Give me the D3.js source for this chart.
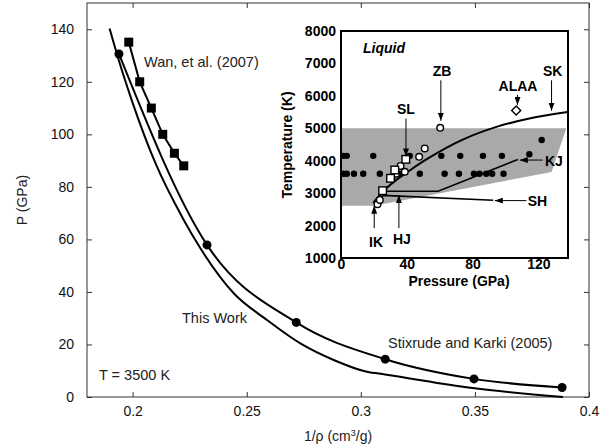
<!DOCTYPE html>
<html>
<head>
<meta charset="utf-8">
<script src="https://cdn.jsdelivr.net/npm/d3@7"></script>
<style>
  body { margin: 0; background: #fff; }
  svg { display: block; font-family: "Liberation Sans", Arial, Helvetica, sans-serif; }
</style>
</head>
<body>
<div id="chart"></div>
<script>
// main chart: P vs 1/rho at T = 3500 K
const thisWorkV = [0.1899, 0.194, 0.200, 0.210, 0.2224, 0.2297, 0.2443, 0.2589, 0.2735, 0.2881, 0.3027, 0.3106, 0.349, 0.3886];
const thisWorkP = [140.3, 128, 112, 89, 67.4, 56.6, 39.5, 29.3, 20.4, 14.1, 9.6, 8.6, 3.4, 0];
const skV = [0.194, 0.2326, 0.2717, 0.3107, 0.3496, 0.3882];
const skP = [130.6, 57.9, 28.4, 14.4, 6.9, 3.6];
const wanV = [0.1983, 0.2031, 0.2082, 0.2132, 0.2183, 0.2224];
const wanP = [135.1, 120, 110, 100, 92.8, 88];
const xTicks = [0.2, 0.25, 0.3, 0.35, 0.4];
const yTicks = [0, 20, 40, 60, 80, 100, 120, 140];

// inset: melting data, T vs P
const dotP = [1.4, 3.5, 19.6, 41.8, 61, 72.5, 86.3, 97.8, 114.5, 122, 1.4, 3.5, 7.9, 13.5, 23.6, 35.3, 47.9, 63, 71.7, 80.8, 84.2, 88.3, 91.9, 98.8];
const dotT = [4150, 4150, 4150, 4150, 4150, 4150, 4150, 4150, 4200, 4640, 3600, 3600, 3600, 3600, 3600, 3600, 3600, 3600, 3600, 3600, 3600, 3600, 3600, 3600];
const openCircP = [22.2, 23.6, 30.7, 33.5, 36.2, 38.8, 47.5, 50.9, 60.3];
const openCircT = [2660, 2790, 3460, 3600, 3840, 3660, 4120, 4380, 5015];
const openSqP = [25.3, 30.1, 32.7, 39.4];
const openSqT = [3076, 3458, 3714, 4043];
const alaaP = [106.5];
const alaaT = [5550];
const skMeltP = [19.6, 25.6, 41.8, 53.9, 74, 95, 114.5, 137.8];
const skMeltT = [2700, 3050, 3700, 4100, 4650, 5050, 5300, 5500];
const kjP = [20, 25.3, 59, 107.5];
const kjT = [2700, 3060, 3060, 4040];
const shP = [20, 25.6, 92.5];
const shT = [2700, 2930, 2780];
const bandP = [0, 137, 128, 20, 0];
const bandT = [5000, 5000, 3650, 2610, 2610];
const insetXTicks = [0, 40, 80, 120];
const insetYTicks = [1000, 2000, 3000, 4000, 5000, 6000, 7000, 8000];
// labels: text, label P, label T, arrow from [P,T] to [P,T]
const tags = [
  {t: "SL",   p: 39.5,  T: 5440, a: [[39.5, 5300], [39.5, 4130]], anchor: "middle"},
  {t: "ZB",   p: 61.5,  T: 6610, a: [[60.7, 6480], [60.7, 5230]], anchor: "middle"},
  {t: "ALAA", p: 107.6, T: 6150, a: [[107.3, 6030], [107.3, 5720]], anchor: "middle"},
  {t: "SK",   p: 128.7, T: 6610, a: [[128, 6480], [128, 5540]], anchor: "middle"},
  {t: "KJ",   p: 124,   T: 3840, a: [[122.6, 4020], [108.7, 4020]], anchor: "start"},
  {t: "SH",   p: 113.5, T: 2610, a: [[112.7, 2770], [93.5, 2770]], anchor: "start"},
  {t: "IK",   p: 21.3,  T: 1340, a: [[20.2, 1920], [20.2, 2610]], anchor: "middle"},
  {t: "HJ",   p: 37,    T: 1430, a: [[35.2, 1920], [35.2, 2940]], anchor: "middle"}
];

const W = 613, H = 448;
const svg = d3.select("#chart").append("svg").attr("width", W).attr("height", H);

const x = d3.scaleLinear().domain([0.18, 0.4]).range([87, 589]);
const y = d3.scaleLinear().domain([0, 150]).range([397, 3]);

// frame
svg.append("rect").attr("x", 87).attr("y", 3).attr("width", 502).attr("height", 394)
  .attr("fill", "none").attr("stroke", "#333").attr("stroke-width", 1);

const fmt = d => d;
const axB = svg.append("g").attr("transform", "translate(0,397)")
  .call(d3.axisBottom(x).tickValues(xTicks).tickFormat(fmt).tickSizeInner(-5).tickSizeOuter(0).tickPadding(9));
const axT = svg.append("g").attr("transform", "translate(0,3)")
  .call(d3.axisTop(x).tickValues(xTicks).tickFormat("").tickSizeInner(-5).tickSizeOuter(0));
const axL = svg.append("g").attr("transform", "translate(87,0)")
  .call(d3.axisLeft(y).tickValues(yTicks).tickFormat(fmt).tickSizeInner(-5).tickSizeOuter(0).tickPadding(13));
const axR = svg.append("g").attr("transform", "translate(589,0)")
  .call(d3.axisRight(y).tickValues(yTicks).tickFormat("").tickSizeInner(-5).tickSizeOuter(0));
[axB, axT, axL, axR].forEach(g => {
  g.select(".domain").remove();
  g.selectAll("line").attr("stroke", "#333");
  g.selectAll("text").attr("font-size", 14).attr("fill", "#111").style("font-family", "Liberation Sans, Arial, sans-serif");
});

// curves
const line = d3.line().x(d => x(d[0])).y(d => y(d[1]));
svg.append("path").datum(thisWorkV.map((v, i) => [v, thisWorkP[i]]))
  .attr("d", line.curve(d3.curveMonotoneX)).attr("fill", "none").attr("stroke", "#000").attr("stroke-width", 2);
svg.append("path").datum(skV.map((v, i) => [v, skP[i]]))
  .attr("d", line.curve(d3.curveMonotoneX)).attr("fill", "none").attr("stroke", "#000").attr("stroke-width", 2);
svg.append("path").datum(wanV.map((v, i) => [v, wanP[i]]))
  .attr("d", line.curve(d3.curveLinear)).attr("fill", "none").attr("stroke", "#000").attr("stroke-width", 2);

svg.selectAll(".skdot").data(skV).enter().append("circle")
  .attr("cx", d => x(d)).attr("cy", (d, i) => y(skP[i])).attr("r", 4.5).attr("fill", "#000");
svg.selectAll(".wansq").data(wanV).enter().append("rect")
  .attr("x", d => x(d) - 4.5).attr("y", (d, i) => y(wanP[i]) - 4.5)
  .attr("width", 9).attr("height", 9).attr("fill", "#000");

const note = (t, px, py, anchor) => svg.append("text").attr("x", px).attr("y", py)
  .attr("font-size", 14.5).attr("fill", "#222").attr("text-anchor", anchor || "start").text(t);
note("Wan, et al. (2007)", 144, 67);
note("This Work", 182, 323);
note("T = 3500 K", 99, 380);
note("Stixrude and Karki (2005)", 388, 348);

svg.append("text").attr("transform", "translate(27,200) rotate(-90)")
  .attr("text-anchor", "middle").attr("font-size", 14).attr("fill", "#222").text("P (GPa)");
const xl = svg.append("text").attr("x", 338).attr("y", 441).attr("text-anchor", "middle")
  .attr("font-size", 14).attr("fill", "#222");
xl.append("tspan").text("1/ρ (cm");
xl.append("tspan").attr("font-size", 9).attr("dy", -5).text("3");
xl.append("tspan").attr("dy", 5).text("/g)");

// ---- inset ----
const ix = d3.scaleLinear().domain([0, 138]).range([341, 568]);
const iy = d3.scaleLinear().domain([1000, 8000]).range([258, 31]);
const inset = svg.append("g");

inset.append("rect").attr("x", 341).attr("y", 31).attr("width", 227).attr("height", 227).attr("fill", "#fff");
inset.append("path")
  .attr("d", d3.line()(bandP.map((p, i) => [ix(p), iy(bandT[i])])) + "Z")
  .attr("fill", "#a9a9a9");

const iline = d3.line().x(d => ix(d[0])).y(d => iy(d[1]));
inset.append("path").datum(kjP.map((p, i) => [p, kjT[i]])).attr("d", iline)
  .attr("fill", "none").attr("stroke", "#000").attr("stroke-width", 1.6);
inset.append("path").datum(shP.map((p, i) => [p, shT[i]])).attr("d", iline)
  .attr("fill", "none").attr("stroke", "#000").attr("stroke-width", 1.6);
inset.append("path").datum(skMeltP.map((p, i) => [p, skMeltT[i]])).attr("d", iline.curve(d3.curveMonotoneX))
  .attr("fill", "none").attr("stroke", "#000").attr("stroke-width", 2);

inset.selectAll(".dot").data(dotP).enter().append("circle")
  .attr("cx", d => ix(d)).attr("cy", (d, i) => iy(dotT[i])).attr("r", 3.2).attr("fill", "#000");
inset.selectAll(".oc").data(openCircP).enter().append("circle")
  .attr("cx", d => ix(d)).attr("cy", (d, i) => iy(openCircT[i])).attr("r", 3.3)
  .attr("fill", "#fff").attr("stroke", "#000").attr("stroke-width", 1.4);
inset.selectAll(".os").data(openSqP).enter().append("rect")
  .attr("x", d => ix(d) - 3.8).attr("y", (d, i) => iy(openSqT[i]) - 3.8)
  .attr("width", 7.6).attr("height", 7.6)
  .attr("fill", "#fff").attr("stroke", "#000").attr("stroke-width", 1.4);
inset.selectAll(".dia").data(alaaP).enter().append("path")
  .attr("transform", (d, i) => `translate(${ix(d)},${iy(alaaT[i])}) rotate(45)`)
  .attr("d", "M-3.2,-3.2H3.2V3.2H-3.2Z")
  .attr("fill", "#fff").attr("stroke", "#000").attr("stroke-width", 1.4);

// arrows
svg.append("defs").append("marker").attr("id", "ah")
  .attr("viewBox", "0 -3 8 6").attr("refX", 8).attr("refY", 0)
  .attr("markerWidth", 8).attr("markerHeight", 6).attr("markerUnits", "userSpaceOnUse")
  .attr("orient", "auto")
  .append("path").attr("d", "M0,-3L8,0L0,3Z").attr("fill", "#000");

tags.forEach(tg => {
  inset.append("line")
    .attr("x1", ix(tg.a[0][0])).attr("y1", iy(tg.a[0][1]))
    .attr("x2", ix(tg.a[1][0])).attr("y2", iy(tg.a[1][1]))
    .attr("stroke", "#000").attr("stroke-width", 1).attr("marker-end", "url(#ah)");
  inset.append("text").attr("x", ix(tg.p)).attr("y", iy(tg.T))
    .attr("text-anchor", tg.anchor).attr("font-size", 14).attr("font-weight", "bold").text(tg.t);
});

inset.append("text").attr("x", 363).attr("y", 53).attr("font-size", 14)
  .attr("font-weight", "bold").attr("font-style", "italic").text("Liquid");

inset.append("rect").attr("x", 341).attr("y", 31).attr("width", 227).attr("height", 227)
  .attr("fill", "none").attr("stroke", "#000").attr("stroke-width", 2);

const iaxB = inset.append("g").attr("transform", "translate(0,258)")
  .call(d3.axisBottom(ix).tickValues(insetXTicks).tickSize(0).tickPadding(1));
const iaxL = inset.append("g").attr("transform", "translate(341,0)")
  .call(d3.axisLeft(iy).tickValues(insetYTicks).tickFormat(d3.format("d")).tickSize(0).tickPadding(5));
[iaxB, iaxL].forEach(g => {
  g.select(".domain").remove();
  g.selectAll("text").attr("font-size", 14).attr("font-weight", "bold").attr("fill", "#000")
    .style("font-family", "Liberation Sans, Arial, sans-serif");
});

inset.append("text").attr("transform", "translate(292,145) rotate(-90)")
  .attr("text-anchor", "middle").attr("font-size", 14).attr("font-weight", "bold").text("Temperature (K)");
inset.append("text").attr("x", 459).attr("y", 286).attr("text-anchor", "middle")
  .attr("font-size", 14).attr("font-weight", "bold").text("Pressure (GPa)");
</script>
</body>
</html>
